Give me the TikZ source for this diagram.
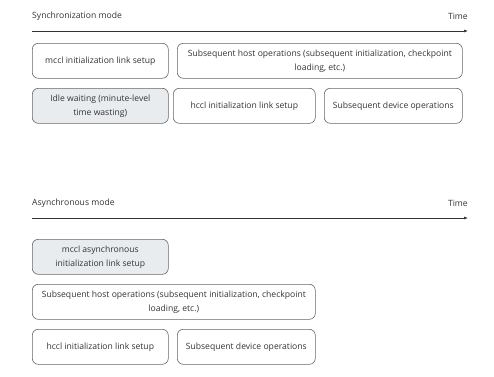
\documentclass[tikz,border=0pt]{standalone}
\usepackage{fontspec}
\setmainfont{Open Sans}
\usepackage{xcolor}
\usetikzlibrary{arrows.meta, positioning}
\definecolor{boxline}{HTML}{666666}
\definecolor{idlefill}{HTML}{E9ECEF}
\definecolor{txt}{HTML}{333333}

\begin{document}
\begin{tikzpicture}[
    x=1pt, y=-1pt,
    phase/.style={draw=boxline, rectangle, rounded corners=6pt, minimum height=35pt, align=center, font=\fontsize{8.6}{14}\selectfont, text=txt, inner sep=2pt, anchor=north west, line width=0.6pt},
    idle/.style={phase, fill=idlefill},
    title/.style={font=\fontsize{8.6}{10}\selectfont, text=txt, inner sep=0pt},
    timeline/.style={-{Latex[length=4pt,width=3pt]}, draw=txt, line width=0.6pt}
]
\useasboundingbox (0,0) rectangle (494,376);

% Synchronization mode
\node[title, anchor=west] (synclbl) at (32,16) {Synchronization mode};
\node[title, anchor=east] (synctime) at (468,16) {Time};
\coordinate (syncL) at (32,31);
\coordinate (syncR) at (468,31);
\draw[timeline] (syncL) -- (syncR);

\node[phase, minimum width=136pt] (smccl) at (32,43) {mccl initialization link setup};
\node[phase, minimum width=285pt] (shost) at (177,43) {Subsequent host operations (subsequent initialization, checkpoint\\ loading, etc.)};
\node[idle, minimum width=136pt] (sidle) at (32,88) {Idle waiting (minute-level\\ time wasting)};
\node[phase, minimum width=142pt] (shccl) at (173,88) {hccl initialization link setup};
\node[phase, minimum width=138pt] (sdev) at (324,88) {Subsequent device operations};

% Asynchronous mode
\node[title, anchor=west] (asynclbl) at (32,203) {Asynchronous mode};
\node[title, anchor=east] (asynctime) at (468,203) {Time};
\coordinate (asyncL) at (32,218);
\coordinate (asyncR) at (468,218);
\draw[timeline] (asyncL) -- (asyncR);

\node[idle, minimum width=136pt] (amccl) at (32,239) {mccl asynchronous\\ initialization link setup};
\node[phase, minimum width=283pt] (ahost) at (32,284) {Subsequent host operations (subsequent initialization, checkpoint\\ loading, etc.)};
\node[phase, minimum width=136pt] (ahccl) at (32,329) {hccl initialization link setup};
\node[phase, minimum width=138pt] (adev) at (177,329) {Subsequent device operations};

\end{tikzpicture}
\end{document}
